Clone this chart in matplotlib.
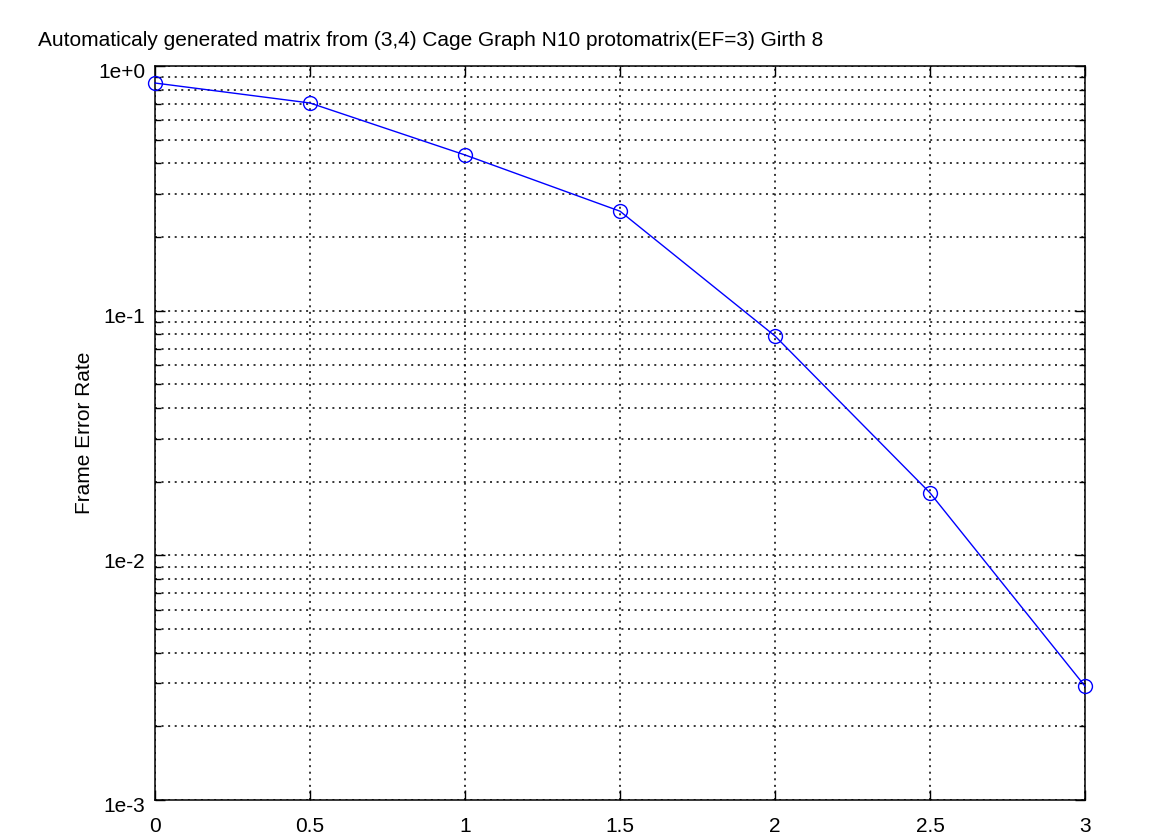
import matplotlib
matplotlib.use("Agg")
import matplotlib.pyplot as plt
import matplotlib.transforms as mtransforms
from matplotlib.ticker import LogLocator, NullFormatter

plt.rcParams['font.family'] = ['Liberation Sans', 'DejaVu Sans']

# Eb/No points and frame error rate
snr = [0, 0.5, 1, 1.5, 2, 2.5, 3]
fer = [0.852, 0.706, 0.433, 0.255, 0.0788, 0.018, 0.00292]

x_ticks = [0, 0.5, 1, 1.5, 2, 2.5, 3]
x_labels = ['0', '0.5', '1', '1.5', '2', '2.5', '3']
y_ticks = [1e-3, 1e-2, 1e-1, 1e0]
y_labels = ['1e-3', '1e-2', '1e-1', '1e+0']

fig = plt.figure(figsize=(11.75, 8.35), dpi=100)
ax = fig.add_axes([155 / 1175, 35 / 835, 930 / 1175, 734 / 835])

ax.plot(snr, fer, color='blue', linewidth=1.0, marker='o', markersize=10,
        markerfacecolor='none', markeredgecolor='blue', markeredgewidth=1.0,
        clip_on=False, zorder=5)

ax.set_yscale('log')
ax.set_xlim(0, 3)
ax.set_ylim(1e-3, 1e0)

ax.set_xticks(x_ticks)
ax.set_xticklabels(x_labels)
ax.set_yticks(y_ticks)
ax.set_yticklabels(y_labels)
ax.yaxis.set_minor_locator(LogLocator(base=10, subs=range(2, 10)))
ax.yaxis.set_minor_formatter(NullFormatter())

ax.tick_params(which='both', direction='in', top=True, right=True,
               labelsize=15, width=1.0, colors='black')
ax.tick_params(which='major', length=7)
ax.tick_params(which='minor', length=4)
ax.tick_params(axis='x', pad=12)
ax.tick_params(axis='y', pad=7)

# y tick labels sit a little below their grid line, as in the original
shift = mtransforms.ScaledTranslation(0, -5 / 100, fig.dpi_scale_trans)
for lbl in ax.get_yticklabels():
    lbl.set_transform(lbl.get_transform() + shift)

ax.grid(True, which='major', axis='x', color='black', linestyle=(0, (1.3, 3)), linewidth=1.1)
ax.grid(True, which='both', axis='y', color='black', linestyle=(0, (1.3, 3)), linewidth=1.1)

for s in ax.spines.values():
    s.set_linewidth(1.1)
    s.set_color('black')

ax.set_ylabel('Frame Error Rate', fontsize=15, labelpad=3)

fig.text(38 / 1175, 1 - 40 / 835,
         'Automaticaly generated matrix from (3,4) Cage Graph N10 protomatrix(EF=3) Girth 8',
         fontsize=15, ha='left', va='center')

fig.savefig('out.png', dpi=100)
